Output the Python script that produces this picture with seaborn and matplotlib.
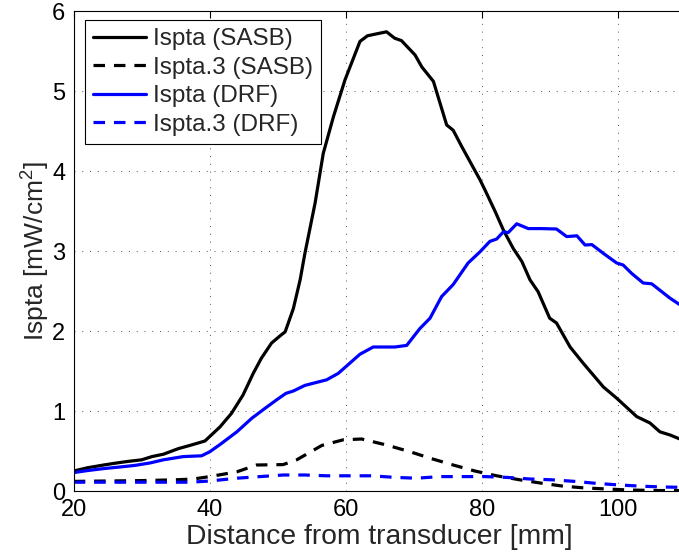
import matplotlib
matplotlib.use('Agg')
import matplotlib.pyplot as plt
import numpy as np
import seaborn as sns

# Ispta (SASB)
sasb_x = [20, 22, 24.4, 26.3, 28, 30, 31.5, 33.2, 35.4, 37.1, 39.3, 41.5, 43.2, 44.9,
          46.4, 47.6, 49.1, 50.5, 51.1, 52.3, 53.3, 54.0, 55.5, 56.7, 58.2, 59.9, 62.1, 63.2,
          64.3, 66.0, 67.2, 68.2, 70.2, 71.2, 72.9, 74.85, 75.8, 77.1, 79.75, 80.5, 82.0,
          83.2, 84.65, 85.9, 87.1, 88.3, 90.0, 91.0, 93.0, 94.9, 96.2, 97.9, 99.85, 102.8,
          104.75, 106.2, 107.7, 110]
sasb_y = [0.25, 0.29, 0.325, 0.35, 0.37, 0.39, 0.43, 0.46, 0.53, 0.57, 0.625, 0.80, 0.97,
          1.2, 1.47, 1.66, 1.85, 1.95, 1.99, 2.28, 2.64, 2.97, 3.6, 4.22, 4.68, 5.14, 5.62, 5.69,
          5.71, 5.74, 5.66, 5.63, 5.45, 5.30, 5.12, 4.575, 4.51, 4.30, 3.89, 3.76, 3.49,
          3.26, 3.03, 2.87, 2.64, 2.49, 2.16, 2.10, 1.80, 1.60, 1.47, 1.30, 1.16, 0.93,
          0.85, 0.74, 0.70, 0.62]

# Ispta.3 (SASB)
sasb3_x = [20, 25, 30, 35, 37.6, 40.0, 44.0, 46.9, 50.8, 52.8, 56.5, 59.65, 62.35, 66.0,
           69.5, 72.4, 75.8, 79.0, 82.2, 85.6, 88.6, 92.0, 94.9, 98.4, 101.8, 106, 110]
sasb3_y = [0.12, 0.125, 0.13, 0.14, 0.15, 0.18, 0.24, 0.325, 0.33, 0.39, 0.57, 0.64, 0.65,
           0.575, 0.49, 0.41, 0.325, 0.25, 0.19, 0.14, 0.10, 0.06, 0.04, 0.025, 0.012,
           0.006, 0.004]

# Ispta (DRF)
drf_x = [20, 22, 24.4, 26.8, 29, 31.2, 33.2, 36.1, 38.8, 40.0, 41.5, 44.0, 46.2, 48.4,
         49.85, 51.2, 52.3, 54.0, 57.2, 58.9, 62.1, 64.05, 67.25, 68.97, 70.9, 72.4, 74.1,
         75.8, 78.0, 79.75, 81.2, 82.2, 83.2, 83.9, 85.15, 86.85, 88.8, 91.0, 92.5, 94.0,
         95.2, 96.2, 97.9, 99.85, 100.8, 102.05, 103.75, 105.0, 106.2, 107.7, 110]
drf_y = [0.23, 0.255, 0.28, 0.30, 0.32, 0.35, 0.39, 0.43, 0.44, 0.49, 0.58, 0.74, 0.91,
         1.05, 1.14, 1.22, 1.25, 1.32, 1.39, 1.47, 1.71, 1.80, 1.80, 1.82, 2.03, 2.16, 2.43,
         2.58, 2.85, 2.99, 3.12, 3.15, 3.24, 3.23, 3.34, 3.28, 3.28, 3.275, 3.18, 3.19,
         3.075, 3.08, 2.97, 2.85, 2.825, 2.72, 2.60, 2.59, 2.51, 2.41, 2.28]

# Ispta.3 (DRF)
drf3_x = [20, 25, 30, 37.1, 40, 44, 50.8, 54.0, 57.2, 60.6, 63.8, 67.25, 70.4, 73.9, 77.3,
          80.5, 83.7, 87.1, 90.3, 93.7, 96.9, 100.3, 103.5, 106.7, 110]
drf3_y = [0.11, 0.11, 0.11, 0.11, 0.125, 0.16, 0.20, 0.20, 0.19, 0.19, 0.19, 0.17, 0.16,
          0.18, 0.18, 0.18, 0.17, 0.15, 0.14, 0.12, 0.095, 0.075, 0.06, 0.05, 0.045]

sns.set_style('white')
plt.rcParams['font.family'] = ['Liberation Sans', 'DejaVu Sans']
plt.rcParams['mathtext.default'] = 'regular'

fig = plt.figure(figsize=(6.79, 5.58), dpi=100)
ax = fig.add_axes([73.7 / 679, 67 / 558, 612 / 679, 480 / 558])

lw = 2.3
dash = (0, (3.6, 2.8))
sns.lineplot(x=sasb_x, y=sasb_y, color='black', linewidth=lw, label='Ispta (SASB)', ax=ax)
sns.lineplot(x=sasb3_x, y=sasb3_y, color='black', linewidth=lw, linestyle=dash,
             label='Ispta.3 (SASB)', ax=ax)
sns.lineplot(x=drf_x, y=drf_y, color='#0000ff', linewidth=lw, label='Ispta (DRF)', ax=ax)
sns.lineplot(x=drf3_x, y=drf3_y, color='#0000ff', linewidth=lw, linestyle=dash,
             label='Ispta.3 (DRF)', ax=ax)

ax.set_xlim(20, 110)
ax.set_ylim(0, 6)
ax.set_xticks([20, 40, 60, 80, 100])
ax.set_yticks([0, 1, 2, 3, 4, 5, 6])
ax.grid(True, color='#555555', linestyle=(0, (1, 7)), linewidth=0.7)
for s in ax.spines.values():
    s.set_color('black')
    s.set_linewidth(0.8)
ax.tick_params(direction='in', top=True, right=True, length=5, width=0.8,
               labelsize=17, pad=6, colors='black')

ax.set_xlabel('Distance from transducer [mm]', fontsize=20.3, labelpad=2)
ax.set_ylabel('Ispta [mW/cm$^2$]', fontsize=19, labelpad=0)

leg = ax.legend(loc='upper left', bbox_to_anchor=((85 - 73.7) / 612, (491 - 20) / 480),
                borderaxespad=0, fontsize=17.5, handlelength=2.2, handletextpad=0.28,
                labelspacing=0.27, borderpad=0.33, fancybox=False, framealpha=1,
                edgecolor='black')
leg.get_frame().set_linewidth(0.8)

fig.savefig('out.png', dpi=100)
